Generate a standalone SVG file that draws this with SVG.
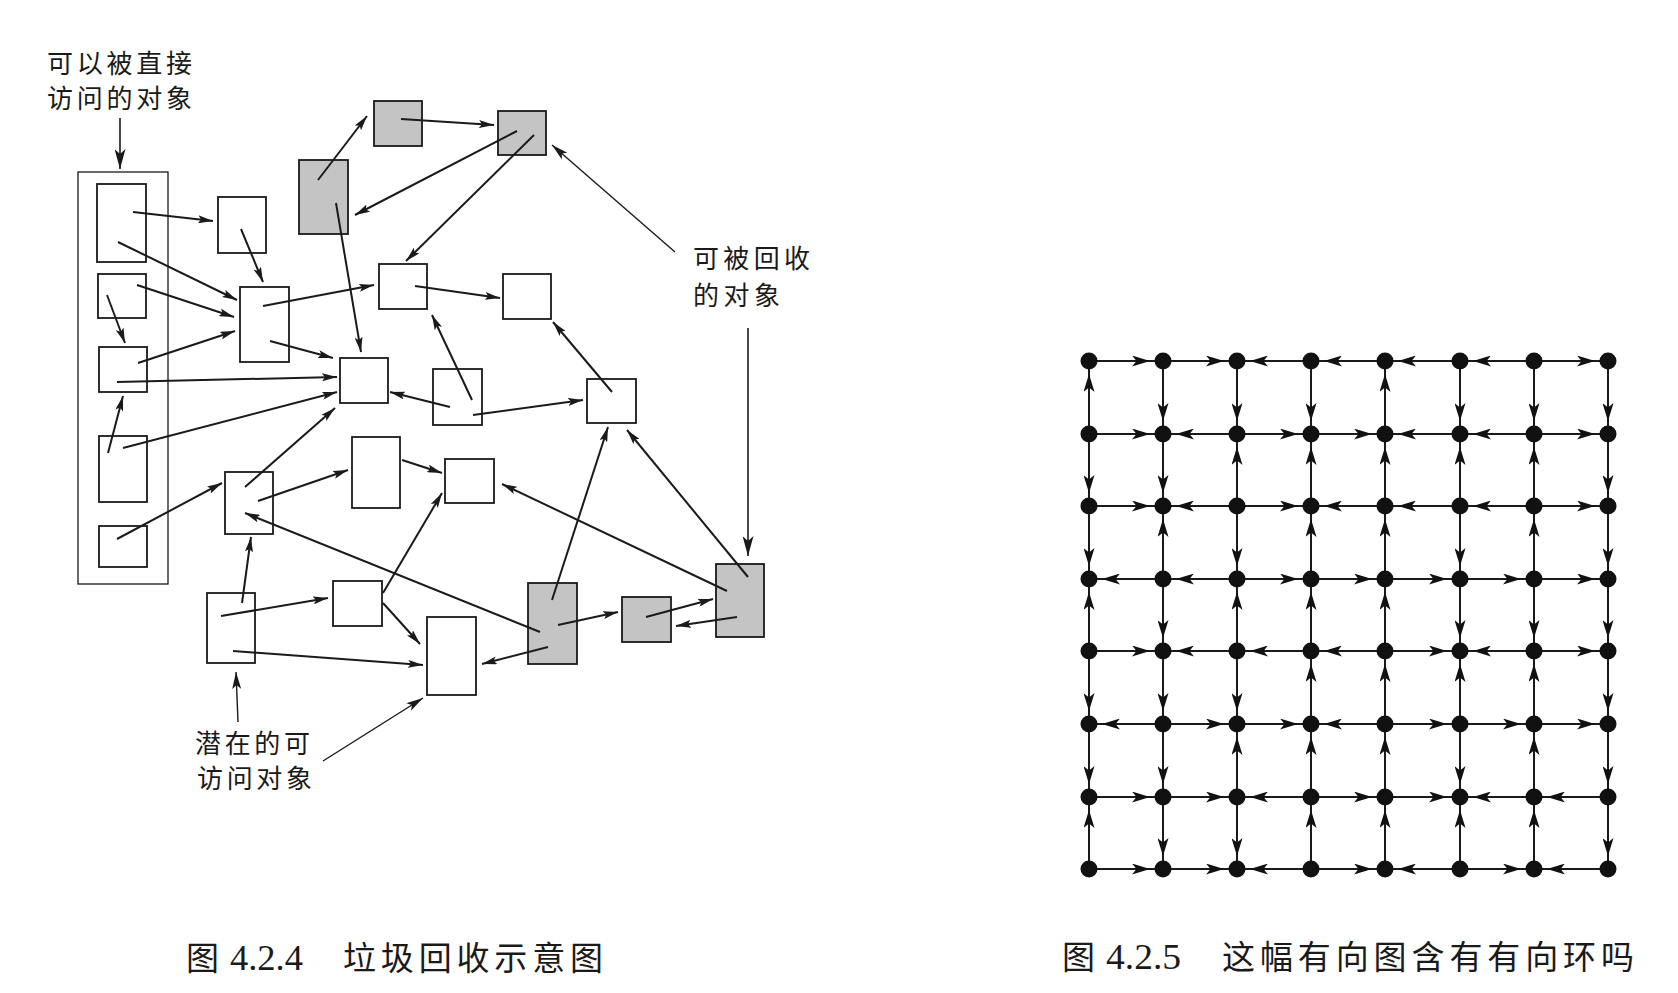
<svg xmlns="http://www.w3.org/2000/svg" width="1678" height="993" viewBox="0 0 1678 993">
<style>
.bg{fill:#ffffff}
.box{fill:#ffffff;stroke:#1a1a1a;stroke-width:1.8}
.gray{fill:#c4c4c4;stroke:#1a1a1a;stroke-width:1.8}
.cont{fill:none;stroke:#1a1a1a;stroke-width:1.3}
.ln{stroke:#1a1a1a;stroke-width:2;fill:none;marker-end:url(#sa)}
.ann{stroke:#1a1a1a;stroke-width:1.4;fill:none;marker-end:url(#ma)}
.annb{stroke:#1a1a1a;stroke-width:1.6;fill:none;marker-end:url(#ba)}
.ge{stroke:#1a1a1a;stroke-width:2;fill:none;marker-mid:url(#ga)}
.dot{fill:#111111}
.cjk{font-family:"Noto Sans CJK SC","Noto Sans",sans-serif;fill:#1a1a1a}
.num{font-family:"Liberation Serif",serif;fill:#1a1a1a}
</style>
<defs>
<marker id="sa" viewBox="0 0 15 8" refX="15" refY="4" markerWidth="15" markerHeight="8" markerUnits="userSpaceOnUse" orient="auto"><path d="M0,0 L15,4 L0,8 L3,4 z" fill="#1a1a1a"/></marker>
<marker id="ma" viewBox="0 0 17 9" refX="17" refY="4.5" markerWidth="17" markerHeight="9" markerUnits="userSpaceOnUse" orient="auto"><path d="M0,0 L17,4.5 L0,9 L4,4.5 z" fill="#1a1a1a"/></marker>
<marker id="ba" viewBox="0 0 20 11" refX="20" refY="5.5" markerWidth="20" markerHeight="11" markerUnits="userSpaceOnUse" orient="auto"><path d="M0,0 L20,5.5 L0,11 L5,5.5 z" fill="#1a1a1a"/></marker>
<marker id="ga" viewBox="0 0 18 11" refX="18" refY="5.5" markerWidth="18" markerHeight="11" markerUnits="userSpaceOnUse" orient="auto"><path d="M0,0 L18,5.5 L0,11 L4.5,5.5 z" fill="#111111"/></marker>
</defs>
<rect class="bg" x="0" y="0" width="1678" height="993"/>

<!-- Figure 4.2.4 -->
<g id="fig424">
<g id="labels424">
<text class="cjk" x="47" y="73" font-size="26" textLength="145" lengthAdjust="spacing">可以被直接</text>
<text class="cjk" x="47" y="108" font-size="26" textLength="145" lengthAdjust="spacing">访问的对象</text>
<text class="cjk" x="693" y="268" font-size="26" textLength="117" lengthAdjust="spacing">可被回收</text>
<text class="cjk" x="693" y="305" font-size="26" textLength="87" lengthAdjust="spacing">的对象</text>
<text class="cjk" x="195" y="753" font-size="26" textLength="115" lengthAdjust="spacing">潜在的可</text>
<text class="cjk" x="197" y="788" font-size="26" textLength="115" lengthAdjust="spacing">访问对象</text>
</g>
<g id="roots"><rect class="cont" x="78" y="172" width="90" height="412"/></g>
<g id="A1"><rect class="box" x="97" y="184" width="49" height="78"/></g>
<g id="A2"><rect class="box" x="98" y="274" width="48" height="44"/></g>
<g id="A3"><rect class="box" x="99" y="347" width="48" height="45"/></g>
<g id="A4"><rect class="box" x="99" y="436" width="48" height="66"/></g>
<g id="A5"><rect class="box" x="99" y="526" width="48" height="41"/></g>
<g id="B"><rect class="box" x="218" y="197" width="48" height="56"/></g>
<g id="C"><rect class="box" x="240" y="287" width="49" height="75"/></g>
<g id="G1"><rect class="gray" x="299" y="160" width="49" height="74"/></g>
<g id="G2"><rect class="gray" x="374" y="101" width="48" height="45"/></g>
<g id="G3"><rect class="gray" x="498" y="111" width="48" height="44"/></g>
<g id="D"><rect class="box" x="379" y="264" width="48" height="45"/></g>
<g id="E"><rect class="box" x="340" y="358" width="48" height="45"/></g>
<g id="F"><rect class="box" x="503" y="274" width="48" height="45"/></g>
<g id="H"><rect class="box" x="433" y="369" width="49" height="56"/></g>
<g id="I"><rect class="box" x="587" y="379" width="49" height="44"/></g>
<g id="J"><rect class="box" x="225" y="472" width="48" height="62"/></g>
<g id="K"><rect class="box" x="352" y="437" width="48" height="71"/></g>
<g id="O"><rect class="box" x="445" y="459" width="49" height="44"/></g>
<g id="L"><rect class="box" x="207" y="593" width="48" height="70"/></g>
<g id="M"><rect class="box" x="333" y="581" width="49" height="45"/></g>
<g id="N"><rect class="box" x="427" y="617" width="49" height="78"/></g>
<g id="P"><rect class="gray" x="528" y="583" width="49" height="81"/></g>
<g id="Q"><rect class="gray" x="622" y="597" width="49" height="45"/></g>
<g id="R"><rect class="gray" x="716" y="564" width="48" height="73"/></g>

<g id="connectors424">
<line class="ln" x1="133" y1="212" x2="213" y2="221"/>
<line class="ln" x1="118" y1="242" x2="237" y2="300"/>
<line class="ln" x1="137" y1="285" x2="234" y2="317"/>
<line class="ln" x1="107" y1="295" x2="125" y2="343"/>
<line class="ln" x1="138" y1="363" x2="235" y2="331"/>
<line class="ln" x1="117" y1="382" x2="337" y2="377"/>
<line class="ln" x1="108" y1="453" x2="123" y2="396"/>
<line class="ln" x1="123" y1="448" x2="337" y2="392"/>
<line class="ln" x1="241" y1="229" x2="263" y2="282"/>
<line class="ln" x1="263" y1="306" x2="374" y2="285"/>
<line class="ln" x1="270" y1="341" x2="333" y2="358"/>
<line class="ln" x1="336" y1="203" x2="361" y2="352"/>
<line class="ln" x1="318" y1="180" x2="367" y2="116"/>
<line class="ln" x1="401" y1="119" x2="494" y2="125"/>
<line class="ln" x1="517" y1="131" x2="355" y2="215"/>
<line class="ln" x1="534" y1="135" x2="406" y2="261"/>
<line class="ln" x1="415" y1="286" x2="500" y2="298"/>
<line class="ln" x1="472" y1="400" x2="432" y2="315"/>
<line class="ln" x1="473" y1="415" x2="583" y2="400"/>
<line class="ln" x1="450" y1="407" x2="390" y2="392"/>
<line class="ln" x1="612" y1="392" x2="553" y2="322"/>
<line class="ln" x1="245" y1="487" x2="335" y2="408"/>
<line class="ln" x1="117" y1="539" x2="222" y2="483"/>
<line class="ln" x1="258" y1="501" x2="348" y2="470"/>
<line class="ln" x1="402" y1="460" x2="442" y2="473"/>
<line class="ln" x1="383" y1="593" x2="442" y2="493"/>
<line class="ln" x1="383" y1="603" x2="420" y2="644"/>
<line class="ln" x1="242" y1="603" x2="251" y2="537"/>
<line class="ln" x1="221" y1="616" x2="328" y2="598"/>
<line class="ln" x1="233" y1="651" x2="423" y2="665"/>
<line class="ln" x1="540" y1="632" x2="245" y2="513"/>
<line class="ln" x1="552" y1="600" x2="608" y2="427"/>
<line class="ln" x1="558" y1="625" x2="618" y2="612"/>
<line class="ln" x1="548" y1="647" x2="482" y2="664"/>
<line class="ln" x1="646" y1="617" x2="713" y2="599"/>
<line class="ln" x1="737" y1="617" x2="676" y2="626"/>
<line class="ln" x1="727" y1="591" x2="502" y2="484"/>
<line class="ln" x1="748" y1="577" x2="627" y2="430"/>
<line class="annb" x1="120" y1="118" x2="120" y2="169"/>
<line class="ann" x1="675" y1="252" x2="552" y2="145"/>
<line class="annb" x1="748" y1="328" x2="748" y2="556"/>
<line class="ann" x1="238" y1="722" x2="236" y2="672"/>
<line class="ann" x1="323" y1="761" x2="423" y2="698"/>
</g>
<g id="caption424">
<text class="cjk" x="186" y="970" font-size="33">图</text>
<text class="num" x="230" y="970" font-size="36" textLength="73" lengthAdjust="spacingAndGlyphs">4.2.4</text>
<text class="cjk" x="343" y="970" font-size="33" textLength="260" lengthAdjust="spacing">垃圾回收示意图</text>
</g>
</g>

<!-- Figure 4.2.5 -->
<g id="fig425">
<g id="edges425">
<path class="ge" d="M1089,361 L1150,361 L1163,361"/>
<path class="ge" d="M1163,361 L1224,361 L1237,361"/>
<path class="ge" d="M1311,361 L1250,361 L1237,361"/>
<path class="ge" d="M1385,361 L1324,361 L1311,361"/>
<path class="ge" d="M1460,361 L1398,361 L1385,361"/>
<path class="ge" d="M1534,361 L1473,361 L1460,361"/>
<path class="ge" d="M1534,361 L1595,361 L1608,361"/>
<path class="ge" d="M1089,434 L1150,434 L1163,434"/>
<path class="ge" d="M1237,434 L1176,434 L1163,434"/>
<path class="ge" d="M1237,434 L1298,434 L1311,434"/>
<path class="ge" d="M1311,434 L1372,434 L1385,434"/>
<path class="ge" d="M1460,434 L1398,434 L1385,434"/>
<path class="ge" d="M1534,434 L1473,434 L1460,434"/>
<path class="ge" d="M1534,434 L1595,434 L1608,434"/>
<path class="ge" d="M1089,506 L1150,506 L1163,506"/>
<path class="ge" d="M1237,506 L1176,506 L1163,506"/>
<path class="ge" d="M1237,506 L1298,506 L1311,506"/>
<path class="ge" d="M1385,506 L1324,506 L1311,506"/>
<path class="ge" d="M1460,506 L1398,506 L1385,506"/>
<path class="ge" d="M1534,506 L1473,506 L1460,506"/>
<path class="ge" d="M1534,506 L1595,506 L1608,506"/>
<path class="ge" d="M1163,579 L1102,579 L1089,579"/>
<path class="ge" d="M1237,579 L1176,579 L1163,579"/>
<path class="ge" d="M1237,579 L1298,579 L1311,579"/>
<path class="ge" d="M1311,579 L1372,579 L1385,579"/>
<path class="ge" d="M1385,579 L1447,579 L1460,579"/>
<path class="ge" d="M1460,579 L1521,579 L1534,579"/>
<path class="ge" d="M1534,579 L1595,579 L1608,579"/>
<path class="ge" d="M1089,651 L1150,651 L1163,651"/>
<path class="ge" d="M1237,651 L1176,651 L1163,651"/>
<path class="ge" d="M1311,651 L1250,651 L1237,651"/>
<path class="ge" d="M1385,651 L1324,651 L1311,651"/>
<path class="ge" d="M1385,651 L1447,651 L1460,651"/>
<path class="ge" d="M1534,651 L1473,651 L1460,651"/>
<path class="ge" d="M1534,651 L1595,651 L1608,651"/>
<path class="ge" d="M1163,724 L1102,724 L1089,724"/>
<path class="ge" d="M1163,724 L1224,724 L1237,724"/>
<path class="ge" d="M1237,724 L1298,724 L1311,724"/>
<path class="ge" d="M1385,724 L1324,724 L1311,724"/>
<path class="ge" d="M1385,724 L1447,724 L1460,724"/>
<path class="ge" d="M1460,724 L1521,724 L1534,724"/>
<path class="ge" d="M1534,724 L1595,724 L1608,724"/>
<path class="ge" d="M1089,797 L1150,797 L1163,797"/>
<path class="ge" d="M1163,797 L1224,797 L1237,797"/>
<path class="ge" d="M1311,797 L1250,797 L1237,797"/>
<path class="ge" d="M1311,797 L1372,797 L1385,797"/>
<path class="ge" d="M1385,797 L1447,797 L1460,797"/>
<path class="ge" d="M1534,797 L1473,797 L1460,797"/>
<path class="ge" d="M1608,797 L1547,797 L1534,797"/>
<path class="ge" d="M1089,869 L1150,869 L1163,869"/>
<path class="ge" d="M1163,869 L1224,869 L1237,869"/>
<path class="ge" d="M1311,869 L1250,869 L1237,869"/>
<path class="ge" d="M1311,869 L1372,869 L1385,869"/>
<path class="ge" d="M1460,869 L1398,869 L1385,869"/>
<path class="ge" d="M1460,869 L1521,869 L1534,869"/>
<path class="ge" d="M1608,869 L1547,869 L1534,869"/>
<path class="ge" d="M1089,434 L1089,374 L1089,361"/>
<path class="ge" d="M1089,434 L1089,493 L1089,506"/>
<path class="ge" d="M1089,506 L1089,566 L1089,579"/>
<path class="ge" d="M1089,651 L1089,592 L1089,579"/>
<path class="ge" d="M1089,651 L1089,711 L1089,724"/>
<path class="ge" d="M1089,724 L1089,784 L1089,797"/>
<path class="ge" d="M1089,869 L1089,810 L1089,797"/>
<path class="ge" d="M1163,361 L1163,421 L1163,434"/>
<path class="ge" d="M1163,434 L1163,493 L1163,506"/>
<path class="ge" d="M1163,579 L1163,519 L1163,506"/>
<path class="ge" d="M1163,579 L1163,638 L1163,651"/>
<path class="ge" d="M1163,651 L1163,711 L1163,724"/>
<path class="ge" d="M1163,724 L1163,784 L1163,797"/>
<path class="ge" d="M1163,797 L1163,856 L1163,869"/>
<path class="ge" d="M1237,361 L1237,421 L1237,434"/>
<path class="ge" d="M1237,506 L1237,447 L1237,434"/>
<path class="ge" d="M1237,506 L1237,566 L1237,579"/>
<path class="ge" d="M1237,651 L1237,592 L1237,579"/>
<path class="ge" d="M1237,651 L1237,711 L1237,724"/>
<path class="ge" d="M1237,797 L1237,737 L1237,724"/>
<path class="ge" d="M1237,797 L1237,856 L1237,869"/>
<path class="ge" d="M1311,361 L1311,421 L1311,434"/>
<path class="ge" d="M1311,506 L1311,447 L1311,434"/>
<path class="ge" d="M1311,579 L1311,519 L1311,506"/>
<path class="ge" d="M1311,651 L1311,592 L1311,579"/>
<path class="ge" d="M1311,724 L1311,664 L1311,651"/>
<path class="ge" d="M1311,797 L1311,737 L1311,724"/>
<path class="ge" d="M1311,869 L1311,810 L1311,797"/>
<path class="ge" d="M1385,434 L1385,374 L1385,361"/>
<path class="ge" d="M1385,506 L1385,447 L1385,434"/>
<path class="ge" d="M1385,579 L1385,519 L1385,506"/>
<path class="ge" d="M1385,651 L1385,592 L1385,579"/>
<path class="ge" d="M1385,724 L1385,664 L1385,651"/>
<path class="ge" d="M1385,797 L1385,737 L1385,724"/>
<path class="ge" d="M1385,869 L1385,810 L1385,797"/>
<path class="ge" d="M1460,361 L1460,421 L1460,434"/>
<path class="ge" d="M1460,506 L1460,447 L1460,434"/>
<path class="ge" d="M1460,506 L1460,566 L1460,579"/>
<path class="ge" d="M1460,579 L1460,638 L1460,651"/>
<path class="ge" d="M1460,724 L1460,664 L1460,651"/>
<path class="ge" d="M1460,724 L1460,784 L1460,797"/>
<path class="ge" d="M1460,869 L1460,810 L1460,797"/>
<path class="ge" d="M1534,361 L1534,421 L1534,434"/>
<path class="ge" d="M1534,506 L1534,447 L1534,434"/>
<path class="ge" d="M1534,579 L1534,519 L1534,506"/>
<path class="ge" d="M1534,579 L1534,638 L1534,651"/>
<path class="ge" d="M1534,724 L1534,664 L1534,651"/>
<path class="ge" d="M1534,797 L1534,737 L1534,724"/>
<path class="ge" d="M1534,869 L1534,810 L1534,797"/>
<path class="ge" d="M1608,361 L1608,421 L1608,434"/>
<path class="ge" d="M1608,434 L1608,493 L1608,506"/>
<path class="ge" d="M1608,506 L1608,566 L1608,579"/>
<path class="ge" d="M1608,579 L1608,638 L1608,651"/>
<path class="ge" d="M1608,651 L1608,711 L1608,724"/>
<path class="ge" d="M1608,724 L1608,784 L1608,797"/>
<path class="ge" d="M1608,797 L1608,856 L1608,869"/>
</g>
<g id="nodes425">
<g id="v00"><circle class="dot" cx="1089" cy="361" r="8.5"/></g>
<g id="v01"><circle class="dot" cx="1163" cy="361" r="8.5"/></g>
<g id="v02"><circle class="dot" cx="1237" cy="361" r="8.5"/></g>
<g id="v03"><circle class="dot" cx="1311" cy="361" r="8.5"/></g>
<g id="v04"><circle class="dot" cx="1385" cy="361" r="8.5"/></g>
<g id="v05"><circle class="dot" cx="1460" cy="361" r="8.5"/></g>
<g id="v06"><circle class="dot" cx="1534" cy="361" r="8.5"/></g>
<g id="v07"><circle class="dot" cx="1608" cy="361" r="8.5"/></g>
<g id="v10"><circle class="dot" cx="1089" cy="434" r="8.5"/></g>
<g id="v11"><circle class="dot" cx="1163" cy="434" r="8.5"/></g>
<g id="v12"><circle class="dot" cx="1237" cy="434" r="8.5"/></g>
<g id="v13"><circle class="dot" cx="1311" cy="434" r="8.5"/></g>
<g id="v14"><circle class="dot" cx="1385" cy="434" r="8.5"/></g>
<g id="v15"><circle class="dot" cx="1460" cy="434" r="8.5"/></g>
<g id="v16"><circle class="dot" cx="1534" cy="434" r="8.5"/></g>
<g id="v17"><circle class="dot" cx="1608" cy="434" r="8.5"/></g>
<g id="v20"><circle class="dot" cx="1089" cy="506" r="8.5"/></g>
<g id="v21"><circle class="dot" cx="1163" cy="506" r="8.5"/></g>
<g id="v22"><circle class="dot" cx="1237" cy="506" r="8.5"/></g>
<g id="v23"><circle class="dot" cx="1311" cy="506" r="8.5"/></g>
<g id="v24"><circle class="dot" cx="1385" cy="506" r="8.5"/></g>
<g id="v25"><circle class="dot" cx="1460" cy="506" r="8.5"/></g>
<g id="v26"><circle class="dot" cx="1534" cy="506" r="8.5"/></g>
<g id="v27"><circle class="dot" cx="1608" cy="506" r="8.5"/></g>
<g id="v30"><circle class="dot" cx="1089" cy="579" r="8.5"/></g>
<g id="v31"><circle class="dot" cx="1163" cy="579" r="8.5"/></g>
<g id="v32"><circle class="dot" cx="1237" cy="579" r="8.5"/></g>
<g id="v33"><circle class="dot" cx="1311" cy="579" r="8.5"/></g>
<g id="v34"><circle class="dot" cx="1385" cy="579" r="8.5"/></g>
<g id="v35"><circle class="dot" cx="1460" cy="579" r="8.5"/></g>
<g id="v36"><circle class="dot" cx="1534" cy="579" r="8.5"/></g>
<g id="v37"><circle class="dot" cx="1608" cy="579" r="8.5"/></g>
<g id="v40"><circle class="dot" cx="1089" cy="651" r="8.5"/></g>
<g id="v41"><circle class="dot" cx="1163" cy="651" r="8.5"/></g>
<g id="v42"><circle class="dot" cx="1237" cy="651" r="8.5"/></g>
<g id="v43"><circle class="dot" cx="1311" cy="651" r="8.5"/></g>
<g id="v44"><circle class="dot" cx="1385" cy="651" r="8.5"/></g>
<g id="v45"><circle class="dot" cx="1460" cy="651" r="8.5"/></g>
<g id="v46"><circle class="dot" cx="1534" cy="651" r="8.5"/></g>
<g id="v47"><circle class="dot" cx="1608" cy="651" r="8.5"/></g>
<g id="v50"><circle class="dot" cx="1089" cy="724" r="8.5"/></g>
<g id="v51"><circle class="dot" cx="1163" cy="724" r="8.5"/></g>
<g id="v52"><circle class="dot" cx="1237" cy="724" r="8.5"/></g>
<g id="v53"><circle class="dot" cx="1311" cy="724" r="8.5"/></g>
<g id="v54"><circle class="dot" cx="1385" cy="724" r="8.5"/></g>
<g id="v55"><circle class="dot" cx="1460" cy="724" r="8.5"/></g>
<g id="v56"><circle class="dot" cx="1534" cy="724" r="8.5"/></g>
<g id="v57"><circle class="dot" cx="1608" cy="724" r="8.5"/></g>
<g id="v60"><circle class="dot" cx="1089" cy="797" r="8.5"/></g>
<g id="v61"><circle class="dot" cx="1163" cy="797" r="8.5"/></g>
<g id="v62"><circle class="dot" cx="1237" cy="797" r="8.5"/></g>
<g id="v63"><circle class="dot" cx="1311" cy="797" r="8.5"/></g>
<g id="v64"><circle class="dot" cx="1385" cy="797" r="8.5"/></g>
<g id="v65"><circle class="dot" cx="1460" cy="797" r="8.5"/></g>
<g id="v66"><circle class="dot" cx="1534" cy="797" r="8.5"/></g>
<g id="v67"><circle class="dot" cx="1608" cy="797" r="8.5"/></g>
<g id="v70"><circle class="dot" cx="1089" cy="869" r="8.5"/></g>
<g id="v71"><circle class="dot" cx="1163" cy="869" r="8.5"/></g>
<g id="v72"><circle class="dot" cx="1237" cy="869" r="8.5"/></g>
<g id="v73"><circle class="dot" cx="1311" cy="869" r="8.5"/></g>
<g id="v74"><circle class="dot" cx="1385" cy="869" r="8.5"/></g>
<g id="v75"><circle class="dot" cx="1460" cy="869" r="8.5"/></g>
<g id="v76"><circle class="dot" cx="1534" cy="869" r="8.5"/></g>
<g id="v77"><circle class="dot" cx="1608" cy="869" r="8.5"/></g>
</g>
<g id="caption425">
<text class="cjk" x="1062" y="969" font-size="33">图</text>
<text class="num" x="1106" y="969" font-size="36" textLength="75" lengthAdjust="spacingAndGlyphs">4.2.5</text>
<text class="cjk" x="1222" y="969" font-size="33" textLength="412" lengthAdjust="spacing">这幅有向图含有有向环吗</text>
</g>
</g>
</svg>
